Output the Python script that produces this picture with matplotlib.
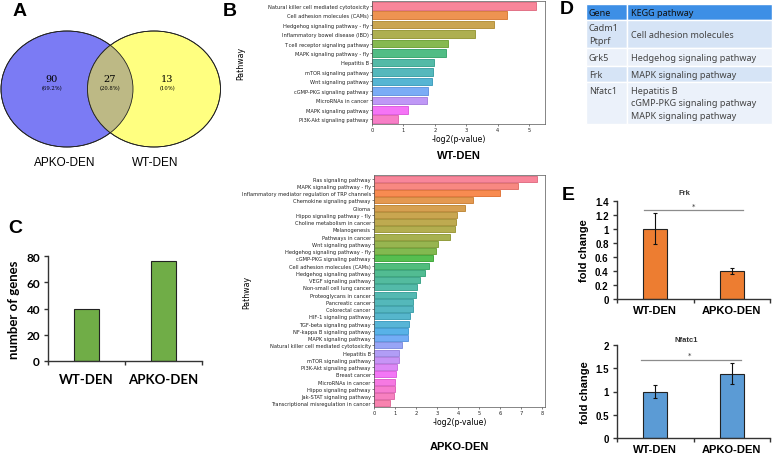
import numpy as np
import matplotlib.pyplot as plt
import matplotlib.patches as mpatches
import seaborn as sns

W, H = 776, 456

# A - venn counts (APKO only, shared, WT only)
venn_counts = [90, 27, 13]
venn_names = ['APKO-DEN', 'WT-DEN']

# B - KEGG enrichment
wt_pathways = ['Natural killer cell mediated cytotoxicity', 'Cell adhesion molecules (CAMs)',
               'Hedgehog signaling pathway - fly', 'Inflammatory bowel disease (IBD)',
               'T cell receptor signaling pathway', 'MAPK signaling pathway - fly',
               'Hepatitis B', 'mTOR signaling pathway', 'Wnt signaling pathway',
               'cGMP-PKG signaling pathway', 'MicroRNAs in cancer', 'MAPK signaling pathway',
               'PI3K-Akt signaling pathway']
wt_scores = [5.21, 4.30, 3.87, 3.27, 2.43, 2.36, 1.97, 1.95, 1.91, 1.79, 1.76, 1.15, 0.84]

apko_pathways = ['Ras signaling pathway', 'MAPK signaling pathway - fly',
                 'Inflammatory mediator regulation of TRP channels', 'Chemokine signaling pathway',
                 'Glioma', 'Hippo signaling pathway - fly', 'Choline metabolism in cancer',
                 'Melanogenesis', 'Pathways in cancer', 'Wnt signaling pathway',
                 'Hedgehog signaling pathway - fly', 'cGMP-PKG signaling pathway',
                 'Cell adhesion molecules (CAMs)', 'Hedgehog signaling pathway',
                 'VEGF signaling pathway', 'Non-small cell lung cancer', 'Proteoglycans in cancer',
                 'Pancreatic cancer', 'Colorectal cancer', 'HIF-1 signaling pathway',
                 'TGF-beta signaling pathway', 'NF-kappa B signaling pathway', 'MAPK signaling pathway',
                 'Natural killer cell mediated cytotoxicity', 'Hepatitis B', 'mTOR signaling pathway',
                 'PI3K-Akt signaling pathway', 'Breast cancer', 'MicroRNAs in cancer',
                 'Hippo signaling pathway', 'Jak-STAT signaling pathway',
                 'Transcriptional misregulation in cancer']
apko_scores = [7.76, 6.84, 5.99, 4.72, 4.36, 3.96, 3.90, 3.86, 3.61, 3.04, 2.94, 2.81, 2.64,
               2.42, 2.21, 2.03, 1.99, 1.85, 1.84, 1.73, 1.65, 1.64, 1.62, 1.35, 1.19, 1.18,
               1.08, 1.03, 1.00, 0.99, 0.94, 0.75]

# C - number of genes
groups = ['WT-DEN', 'APKO-DEN']
gene_counts = [40, 76]

# D - table
table_header = ['Gene', 'KEGG pathway']
table_rows = [['Cadm1\nPtprf', 'Cell adhesion molecules'],
              ['Grk5', 'Hedgehog signaling pathway'],
              ['Frk', 'MAPK signaling pathway'],
              ['Nfatc1\n\n', 'Hepatitis B\ncGMP-PKG signaling pathway\nMAPK signaling pathway']]

# E - qPCR fold change
frk_mean = [1.0, 0.4]
frk_err = [0.22, 0.04]
nfatc1_mean = [1.0, 1.38]
nfatc1_err = [0.13, 0.22]


def box(l, t, r, b):
    return [l / W, 1 - b / H, (r - l) / W, (b - t) / H]


fig = plt.figure(figsize=(W / 100, H / 100), dpi=100)

bg = fig.add_axes([0, 0, 1, 1])
bg.set_xlim(0, W)
bg.set_ylim(H, 0)
bg.axis('off')

for lab, x, y in [('A', 20, 11), ('B', 230, 11), ('C', 15, 229), ('D', 567, 10), ('E', 568, 196)]:
    bg.text(x, y, lab, fontsize=14, fontweight='bold', family='Liberation Sans',
            ha='center', va='center')

# ---- A: venn
blue = mpatches.Ellipse((67, 90), 132, 116, facecolor='#7b7bf4', edgecolor='#222222', lw=0.6)
yel = mpatches.Ellipse((154, 90), 133, 116, facecolor='#ffff80', edgecolor='#222222', lw=0.6)
bg.add_patch(blue)
bg.add_patch(yel)
mid = mpatches.Ellipse((154, 90), 133, 116, facecolor='#bdb985', edgecolor='none')
bg.add_patch(mid)
mid.set_clip_path(blue)
bg.add_patch(mpatches.Ellipse((67, 90), 132, 116, facecolor='none', edgecolor='#222222', lw=0.6))
bg.add_patch(mpatches.Ellipse((154, 90), 133, 116, facecolor='none', edgecolor='#222222', lw=0.6))
total = sum(venn_counts)
for cnt, x in zip(venn_counts, [52, 110, 167]):
    bg.text(x, 80, str(cnt), fontsize=7, family='DejaVu Serif', ha='center', va='center')
    pct = cnt / total * 100
    s = '(%d%%)' % pct if abs(pct - round(pct)) < 0.05 else '(%.1f%%)' % pct
    bg.text(x, 88.5, s, fontsize=3.8, family='DejaVu Serif', ha='center', va='center')
bg.text(65, 163, venn_names[0], fontsize=8.5, family='Liberation Sans', ha='center', va='center')
bg.text(155, 163, venn_names[1], fontsize=8.5, family='Liberation Sans', ha='center', va='center')


# ---- B: pathway bars
def pathway_bars(ax, names, scores, xmax):
    n = len(names)
    pal = sns.color_palette('husl', n)
    edges = [tuple(0.9 * np.array(c)) for c in pal]
    fills = [tuple(0.85 * np.array(c) + 0.15) for c in pal]
    y = np.arange(n)
    ax.barh(y, scores, height=0.8, color=fills, edgecolor=edges, linewidth=0.6)
    ax.set_yticks(y, names)
    ax.set_ylim(n - 0.5, -0.5)
    ax.set_xlim(0, xmax)
    ax.set_xticks(range(int(xmax) + 1))
    ax.tick_params(labelsize=3.7, length=1.5, width=0.4, pad=0.8, colors='#222222')
    for s in ax.spines.values():
        s.set_color('#555555')
        s.set_linewidth(0.5)
    ax.set_xlabel('-log2(p-value)', fontsize=5.6, labelpad=1.5)
    ax.set_ylabel('Pathway', fontsize=5.6)


axb1 = fig.add_axes(box(372, 2, 545, 125))
pathway_bars(axb1, wt_pathways, wt_scores, 5.5)
axb1.yaxis.set_label_coords(-0.73, 0.5)
bg.text(459, 156, 'WT-DEN', fontsize=8, fontweight='bold', family='Liberation Sans',
        ha='center', va='center')

axb2 = fig.add_axes(box(374, 176, 545, 408))
pathway_bars(axb2, apko_pathways, apko_scores, 8.15)
axb2.yaxis.set_label_coords(-0.72, 0.5)
bg.text(459, 447, 'APKO-DEN', fontsize=8, fontweight='bold', family='Liberation Sans',
        ha='center', va='center')


# ---- C / E: excel style bars
def excel_axes(ax, means, color, ylim, yticks, ylabels, ylabel, font, errs=None):
    x = np.arange(len(groups))
    ax.bar(x, means, width=0.32, color=color, edgecolor='#222222', linewidth=0.8,
           yerr=errs, error_kw=dict(ecolor='#111111', elinewidth=0.8, capsize=1.5, capthick=0.8))
    ax.set_xlim(-0.5, 1.5)
    ax.set_ylim(*ylim)
    ax.set_yticks(yticks, ylabels)
    ax.set_xticks(x, groups)
    ax.set_xticks([-0.5, 0.5, 1.5], minor=True)
    for s in ['top', 'right']:
        ax.spines[s].set_visible(False)
    for s in ['left', 'bottom']:
        ax.spines[s].set_color('#333333')
        ax.spines[s].set_linewidth(1.0)
    ax.tick_params(axis='x', which='major', length=0, pad=6)
    ax.tick_params(axis='x', which='minor', length=3, width=1.0, color='#333333')
    ax.tick_params(axis='y', length=3, width=1.0, color='#333333', pad=3)
    for t in ax.get_xticklabels() + ax.get_yticklabels():
        t.set_fontweight('bold')
        t.set_family(font)
    ax.set_ylabel(ylabel, fontweight='bold', family=font)
    ax.patch.set_alpha(0)


axc = fig.add_axes(box(48, 257, 202, 362))
excel_axes(axc, gene_counts, '#70ad47', (0, 80), [0, 20, 40, 60, 80],
           ['0', '20', '40', '60', '80'], 'number of genes', 'Lato')
for t in axc.get_yticklabels():
    t.set_fontsize(8.5)
for t in axc.get_xticklabels():
    t.set_fontsize(9.5)
axc.yaxis.label.set_fontsize(9.5)
axc.tick_params(axis='x', which='major', pad=9)
axc.yaxis.labelpad = 4

axe1 = fig.add_axes(box(617, 201.7, 770, 300))
excel_axes(axe1, frk_mean, '#ed7d31', (0, 1.4), np.arange(0, 1.41, 0.2),
           ['0', '0.2', '0.4', '0.6', '0.8', '1', '1.2', '1.4'], 'fold change',
           'Liberation Sans', errs=frk_err)
axe2 = fig.add_axes(box(617, 345.7, 770, 439.3))
excel_axes(axe2, nfatc1_mean, '#5b9bd5', (0, 2), [0, 0.5, 1, 1.5, 2],
           ['0', '0.5', '1', '1.5', '2'], 'fold change', 'Liberation Sans', errs=nfatc1_err)
for ax in (axe1, axe2):
    for t in ax.get_yticklabels():
        t.set_fontsize(7)
    for t in ax.get_xticklabels():
        t.set_fontsize(8)
    ax.yaxis.label.set_fontsize(8)
    ax.tick_params(axis='x', which='major', pad=4)

axe1.plot([-0.15, 1.15], [1.27, 1.27], color='#8c8c8c', lw=0.9, clip_on=False)
axe1.text(0.5, 1.33, '*', fontsize=5, ha='center', va='center', color='#333333')
axe1.text(0.38, 1.51, 'Frk', fontsize=5.5, fontweight='bold', ha='center', va='center',
          color='#333333', family='Liberation Sans')
axe2.plot([-0.18, 1.12], [1.67, 1.67], color='#8c8c8c', lw=0.9, clip_on=False)
axe2.text(0.45, 1.78, '*', fontsize=5, ha='center', va='center', color='#333333')
axe2.text(0.4, 2.12, 'Nfatc1', fontsize=5.5, fontweight='bold', ha='center', va='center',
          color='#333333', family='Liberation Sans', clip_on=False)

# ---- D: table
axd = fig.add_axes(box(586, 5, 772, 125))
axd.axis('off')
row_h = [16, 28, 18, 16, 42]
row_cols = ['#3d8fe6', '#d6e4f6', '#ebf1fa', '#d6e4f6', '#ebf1fa']
cells = [table_header] + table_rows
tab = axd.table(cellText=cells, cellColours=[[c, c] for c in row_cols],
                colWidths=[41 / 186, 145 / 186], cellLoc='left', bbox=[0, 0, 1, 1])
tab.auto_set_font_size(False)
tab.set_fontsize(6.5)
for (r, c), cell in tab.get_celld().items():
    cell.set_edgecolor('white')
    cell.set_linewidth(1.0)
    cell.set_height(row_h[r] / sum(row_h))
    cell.PAD = 0.07 if c == 0 else 0.025
    txt = cell.get_text()
    txt.set_family('Noto Sans')
    txt.set_linespacing(1.55)
    txt.set_color('#111111' if r == 0 else '#444444')
    if r == 0:
        txt.set_fontweight('bold')

fig.savefig('out.png', dpi=100)
